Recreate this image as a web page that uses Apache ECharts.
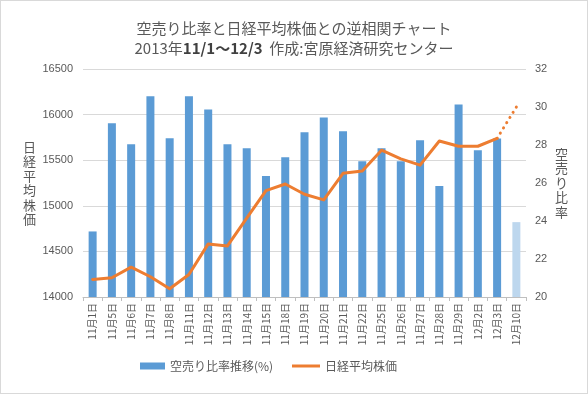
<!DOCTYPE html>
<html>
<head>
<meta charset="utf-8">
<script src="https://cdn.jsdelivr.net/npm/echarts@6/dist/echarts.min.js"></script>
<style>
html,body{margin:0;padding:0;background:#fff;}
#c{width:588px;height:394px;box-sizing:border-box;border:1px solid #d9d9d9;}
</style>
</head>
<body>
<div id="c"></div>
<script>
const categories = ['11月1日','11月5日','11月6日','11月7日','11月8日','11月11日','11月12日','11月13日','11月14日','11月15日','11月18日','11月19日','11月20日','11月21日','11月22日','11月25日','11月26日','11月27日','11月28日','11月29日','12月2日','12月3日','12月10日'];
const shortRatio = [23.45,29.15,28.04,30.57,28.35,30.57,29.87,28.04,27.83,26.37,27.36,28.67,29.45,28.72,27.15,27.83,27.15,28.25,25.84,30.13,27.73,28.34,23.94];
const nikkei = [14193,14211,14327,14222,14091,14247,14582,14560,14865,15166,15239,15127,15065,15356,15381,15610,15515,15446,15711,15653,15653,15740,null];
const nikkeiProjection = 16083;
const leftTicks = {min:14000, max:16500, interval:500};
const rightTicks = {min:20, max:32, interval:2};

const FONT = "'Noto Sans CJK JP', 'Noto Sans', sans-serif";
const NUMFONT = "'Liberation Sans', Arial, sans-serif";
const lastIdx = categories.length - 1;
const barData = shortRatio.map((v,i)=> i===lastIdx ? {value:v, itemStyle:{color:'#BDD7EE'}} : v);
const projData = nikkei.map(()=>null);
projData[lastIdx-1] = nikkei[lastIdx-1];
projData[lastIdx] = nikkeiProjection;

const legendText = {fontFamily:FONT, fontSize:12, color:'#595959'};
const chart = echarts.init(document.getElementById('c'));
chart.setOption({
  animation:false,
  textStyle:{fontFamily:FONT},
  title:{
    text:'空売り比率と日経平均株価との逆相関チャート\n2013年{b|11/1～12/3}  作成:宮原経済研究センター',
    left:'center', top:12,
    textStyle:{fontFamily:FONT, fontSize:15, fontWeight:'normal', color:'#595959', lineHeight:20,
      rich:{b:{fontFamily:FONT, fontSize:15, fontWeight:'bold', color:'#404040', lineHeight:20}}}
  },
  legend:[
    {data:['空売り比率推移(%)'], left:139, top:359, padding:0, itemWidth:25, itemHeight:7, itemGap:4, icon:'rect', textStyle:legendText},
    {data:['日経平均株価'], left:291, top:359, padding:0, itemWidth:28, itemHeight:3, icon:'rect', textStyle:legendText}
  ],
  grid:{left:82, right:61, top:68, bottom:96},
  xAxis:{
    type:'category', data:categories, boundaryGap:true,
    axisLine:{lineStyle:{color:'#bfbfbf'}},
    axisTick:{show:true, length:4, lineStyle:{color:'#bfbfbf'}},
    axisLabel:{rotate:90, fontSize:10, color:'#595959', fontFamily:FONT, interval:0, margin:6}
  },
  yAxis:[
    {type:'value', min:leftTicks.min, max:leftTicks.max, interval:leftTicks.interval,
     name:'日\n経\n平\n均\n株\n価', nameLocation:'middle', nameRotate:0, nameGap:47,
     nameTextStyle:{fontFamily:FONT, fontSize:13, color:'#595959', lineHeight:14.5},
     axisLine:{show:false}, axisTick:{show:false},
     axisLabel:{fontSize:11, color:'#595959', margin:10, fontFamily:NUMFONT, formatter:v=>String(v)},
     splitLine:{lineStyle:{color:'#d9d9d9'}}},
    {type:'value', min:rightTicks.min, max:rightTicks.max, interval:rightTicks.interval,
     name:'空\n売\nり\n比\n率', nameLocation:'middle', nameRotate:0, nameGap:29,
     nameTextStyle:{fontFamily:FONT, fontSize:13, color:'#595959', lineHeight:14.5},
     axisLine:{show:false}, axisTick:{show:false},
     axisLabel:{fontSize:11, color:'#595959', margin:9, fontFamily:NUMFONT, formatter:v=>String(v)},
     splitLine:{show:false}}
  ],
  series:[
    {name:'空売り比率推移(%)', type:'bar', yAxisIndex:1, data:barData, barWidth:8,
     itemStyle:{color:'#5B9BD5'}},
    {name:'日経平均株価', type:'line', yAxisIndex:0, data:nikkei, symbol:'none',
     lineStyle:{color:'#ED7D31', width:3, cap:'round', join:'round'}, itemStyle:{color:'#ED7D31'}},
    {name:'予測', type:'line', yAxisIndex:0, data:projData, symbol:'none', connectNulls:false,
     lineStyle:{color:'#ED7D31', width:3, type:[0.1,6], cap:'round'}, itemStyle:{color:'#ED7D31'}}
  ]
});
</script>
</body>
</html>
